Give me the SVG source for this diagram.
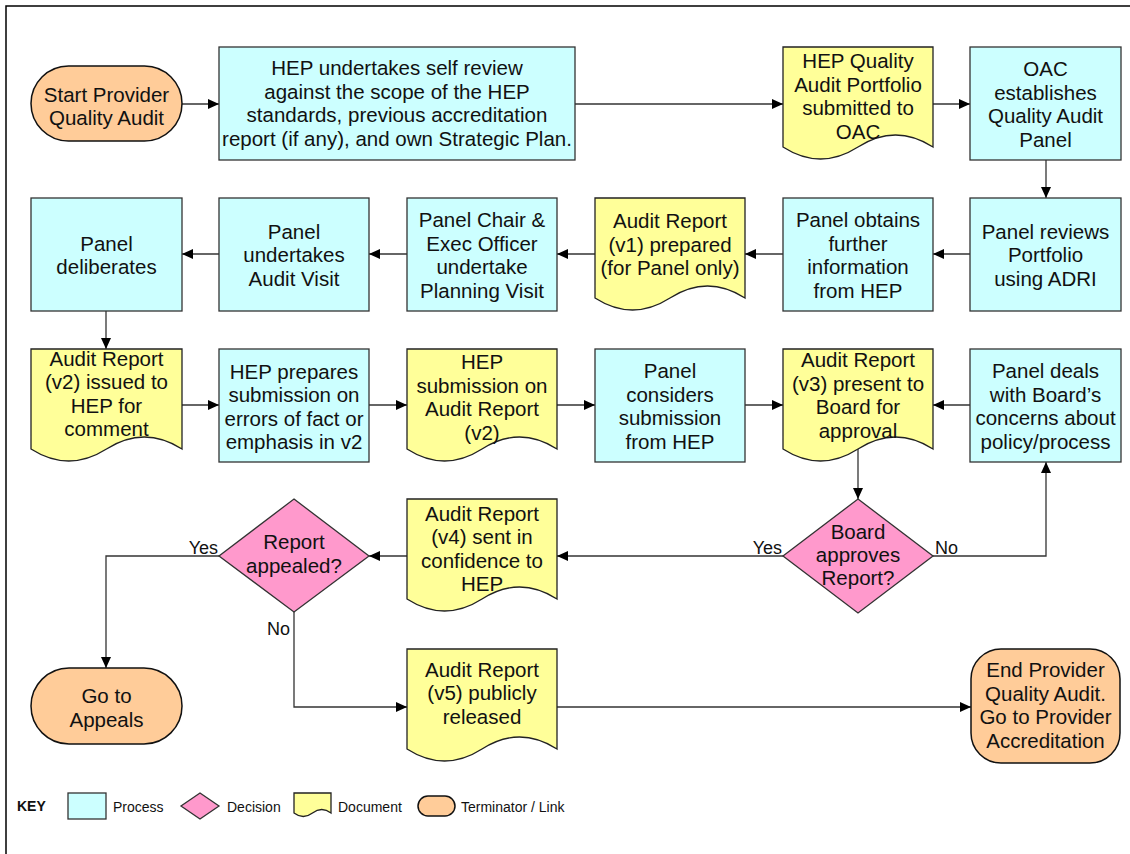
<svg xmlns="http://www.w3.org/2000/svg" width="1130" height="854" viewBox="0 0 1130 854">
<defs>
<marker id="ah" markerWidth="11" markerHeight="10" refX="11" refY="5" orient="auto" markerUnits="userSpaceOnUse"><path d="M0,0 L11,5 L0,10 Z" fill="#000"/></marker>
<style>
.proc{fill:#CCFFFF;stroke:#333;stroke-width:1.3}
.doc{fill:#FFFF99;stroke:#222;stroke-width:1.3}
.dec{fill:#FF99CC;stroke:#333;stroke-width:1.3}
.term{fill:#FFCC99;stroke:#111;stroke-width:1.5}
.t{font-family:"Liberation Sans",Arial,Helvetica,sans-serif;font-size:20.5px;fill:#111;text-anchor:middle}
.lbl{font-family:"Liberation Sans",Arial,Helvetica,sans-serif;font-size:18px;fill:#111}
.key{font-family:"Liberation Sans",Arial,Helvetica,sans-serif;font-size:14px;fill:#111}
.c{fill:none;stroke:#333;stroke-width:1.3}
.ca{fill:none;stroke:#333;stroke-width:1.3;marker-end:url(#ah)}
</style>
</defs>
<rect x="0" y="0" width="1130" height="854" fill="#fff"/>
<rect x="6" y="6" width="1300" height="1000" fill="none" stroke="#000" stroke-width="1.5"/>

<g id="connectors">
<path class="ca" d="M181,104 H219"/>
<path class="ca" d="M575,104 H783"/>
<path class="ca" d="M933,104 H970"/>
<path class="ca" d="M1046,160 V198"/>
<path class="ca" d="M970,254 H933"/>
<path class="ca" d="M783,254 H745"/>
<path class="ca" d="M595,254 H557"/>
<path class="ca" d="M407,254 H369"/>
<path class="ca" d="M219,254 H182"/>
<path class="ca" d="M106,311 V349"/>
<path class="ca" d="M182,405 H219"/>
<path class="ca" d="M369,405 H407"/>
<path class="ca" d="M557,405 H595"/>
<path class="ca" d="M745,405 H783"/>
<path class="ca" d="M970,405 H933"/>
<path class="ca" d="M858,449 V499"/>
<path class="ca" d="M783,556 H557"/>
<path class="ca" d="M933,556 H1046 V462"/>
<path class="ca" d="M407,556 H369"/>
<path class="ca" d="M219,556 H106 V668"/>
<path class="ca" d="M294,612 V707 H407"/>
<path class="ca" d="M557,707 H971"/>
<text class="lbl" x="782" y="554" text-anchor="end">Yes</text>
<text class="lbl" x="935" y="554">No</text>
<text class="lbl" x="218" y="554" text-anchor="end">Yes</text>
<text class="lbl" x="290" y="635" text-anchor="end">No</text>
</g>

<g id="start">
<rect class="term" x="31" y="66" width="151" height="75" rx="37.5"/>
<text class="t"><tspan x="106.5" y="102">Start Provider</tspan><tspan x="106.5" y="125">Quality Audit</tspan></text>
</g>
<g id="hep-self-review">
<rect class="proc" x="219" y="47" width="356" height="113"/>
<text class="t"><tspan x="397" y="75">HEP undertakes self review</tspan><tspan x="397" y="98.5">against the scope of the HEP</tspan><tspan x="397" y="122">standards, previous accreditation</tspan><tspan x="397" y="145.5">report (if any), and own Strategic Plan.</tspan></text>
</g>
<g id="portfolio">
<path class="doc" d="M783,47 H933 V147 Q895.5,123 858,147 T783,147 Z"/>
<text class="t"><tspan x="858" y="68">HEP Quality</tspan><tspan x="858" y="91.5">Audit Portfolio</tspan><tspan x="858" y="115">submitted to</tspan><tspan x="858" y="138.5">OAC</tspan></text>
</g>
<g id="oac-panel">
<rect class="proc" x="970" y="47" width="151" height="113"/>
<text class="t"><tspan x="1045.5" y="76">OAC</tspan><tspan x="1045.5" y="99.5">establishes</tspan><tspan x="1045.5" y="123">Quality Audit</tspan><tspan x="1045.5" y="146.5">Panel</tspan></text>
</g>

<g id="panel-reviews">
<rect class="proc" x="970" y="198" width="151" height="113"/>
<text class="t"><tspan x="1045.5" y="238.5">Panel reviews</tspan><tspan x="1045.5" y="262">Portfolio</tspan><tspan x="1045.5" y="285.5">using ADRI</tspan></text>
</g>
<g id="panel-obtains">
<rect class="proc" x="783" y="198" width="150" height="113"/>
<text class="t"><tspan x="858" y="227">Panel obtains</tspan><tspan x="858" y="250.5">further</tspan><tspan x="858" y="274">information</tspan><tspan x="858" y="297.5">from HEP</tspan></text>
</g>
<g id="report-v1">
<path class="doc" d="M595,198 H745 V298 Q707.5,274 670,298 T595,298 Z"/>
<text class="t"><tspan x="670" y="228">Audit Report</tspan><tspan x="670" y="251.5">(v1) prepared</tspan><tspan x="670" y="275">(for Panel only)</tspan></text>
</g>
<g id="planning-visit">
<rect class="proc" x="407" y="198" width="150" height="113"/>
<text class="t"><tspan x="482" y="227">Panel Chair &amp;</tspan><tspan x="482" y="250.5">Exec Officer</tspan><tspan x="482" y="274">undertake</tspan><tspan x="482" y="297.5">Planning Visit</tspan></text>
</g>
<g id="audit-visit">
<rect class="proc" x="219" y="198" width="150" height="113"/>
<text class="t"><tspan x="294" y="238.5">Panel</tspan><tspan x="294" y="262">undertakes</tspan><tspan x="294" y="285.5">Audit Visit</tspan></text>
</g>
<g id="deliberates">
<rect class="proc" x="31" y="198" width="151" height="113"/>
<text class="t"><tspan x="106.5" y="250.5">Panel</tspan><tspan x="106.5" y="274">deliberates</tspan></text>
</g>

<g id="report-v2">
<path class="doc" d="M31,349 H182 V449 Q144.25,425 106.5,449 T31,449 Z"/>
<text class="t"><tspan x="106.5" y="365.5">Audit Report</tspan><tspan x="106.5" y="389">(v2) issued to</tspan><tspan x="106.5" y="412.5">HEP for</tspan><tspan x="106.5" y="436">comment</tspan></text>
</g>
<g id="hep-prepares">
<rect class="proc" x="219" y="349" width="150" height="113"/>
<text class="t"><tspan x="294" y="378.5">HEP prepares</tspan><tspan x="294" y="402">submission on</tspan><tspan x="294" y="425.5">errors of fact or</tspan><tspan x="294" y="449">emphasis in v2</tspan></text>
</g>
<g id="hep-submission">
<path class="doc" d="M407,349 H557 V449 Q519.5,425 482,449 T407,449 Z"/>
<text class="t"><tspan x="482" y="369">HEP</tspan><tspan x="482" y="392.5">submission on</tspan><tspan x="482" y="416">Audit Report</tspan><tspan x="482" y="439.5">(v2)</tspan></text>
</g>
<g id="panel-considers">
<rect class="proc" x="595" y="349" width="150" height="113"/>
<text class="t"><tspan x="670" y="378">Panel</tspan><tspan x="670" y="401.5">considers</tspan><tspan x="670" y="425">submission</tspan><tspan x="670" y="448.5">from HEP</tspan></text>
</g>
<g id="report-v3">
<path class="doc" d="M783,349 H933 V449 Q895.5,425 858,449 T783,449 Z"/>
<text class="t"><tspan x="858" y="367">Audit Report</tspan><tspan x="858" y="390.5">(v3) present to</tspan><tspan x="858" y="414">Board for</tspan><tspan x="858" y="437.5">approval</tspan></text>
</g>
<g id="panel-deals">
<rect class="proc" x="970" y="349" width="151" height="113"/>
<text class="t"><tspan x="1045.5" y="378">Panel deals</tspan><tspan x="1045.5" y="401.5">with Board’s</tspan><tspan x="1045.5" y="425">concerns about</tspan><tspan x="1045.5" y="448.5">policy/process</tspan></text>
</g>

<g id="board-approves">
<polygon class="dec" points="858,499 933,556 858,613 783,556"/>
<text class="t"><tspan x="858" y="539">Board</tspan><tspan x="858" y="562">approves</tspan><tspan x="858" y="585">Report?</tspan></text>
</g>
<g id="report-v4">
<path class="doc" d="M407,499 H557 V599 Q519.5,575 482,599 T407,599 Z"/>
<text class="t"><tspan x="482" y="520.5">Audit Report</tspan><tspan x="482" y="544">(v4) sent in</tspan><tspan x="482" y="567.5">confidence to</tspan><tspan x="482" y="591">HEP</tspan></text>
</g>
<g id="report-appealed">
<polygon class="dec" points="294,499 369,556 294,612 219,556"/>
<text class="t"><tspan x="294" y="549">Report</tspan><tspan x="294" y="572.5">appealed?</tspan></text>
</g>
<g id="go-to-appeals">
<rect class="term" x="31" y="668" width="151" height="76" rx="38"/>
<text class="t"><tspan x="106.5" y="703">Go to</tspan><tspan x="106.5" y="727">Appeals</tspan></text>
</g>
<g id="report-v5">
<path class="doc" d="M407,649 H557 V749 Q519.5,725 482,749 T407,749 Z"/>
<text class="t"><tspan x="482" y="676.5">Audit Report</tspan><tspan x="482" y="700">(v5) publicly</tspan><tspan x="482" y="723.5">released</tspan></text>
</g>
<g id="end">
<rect class="term" x="971" y="649" width="149" height="114" rx="30"/>
<text class="t"><tspan x="1045.5" y="677">End Provider</tspan><tspan x="1045.5" y="700.5">Quality Audit.</tspan><tspan x="1045.5" y="724">Go to Provider</tspan><tspan x="1045.5" y="747.5">Accreditation</tspan></text>
</g>

<g id="key">
<text class="key" x="17" y="811" font-weight="bold">KEY</text>
<rect class="proc" x="68" y="793" width="38" height="26"/>
<text class="key" x="113" y="812">Process</text>
<polygon class="dec" points="200,793 219,806 200,819 181,806"/>
<text class="key" x="227" y="812">Decision</text>
<path class="doc" d="M294,793 H331 V813 Q321.75,806 312.5,813 T294,813 Z"/>
<text class="key" x="338" y="812">Document</text>
<rect class="term" x="418" y="796" width="37" height="20" rx="10"/>
<text class="key" x="461" y="812">Terminator / Link</text>
</g>
</svg>
